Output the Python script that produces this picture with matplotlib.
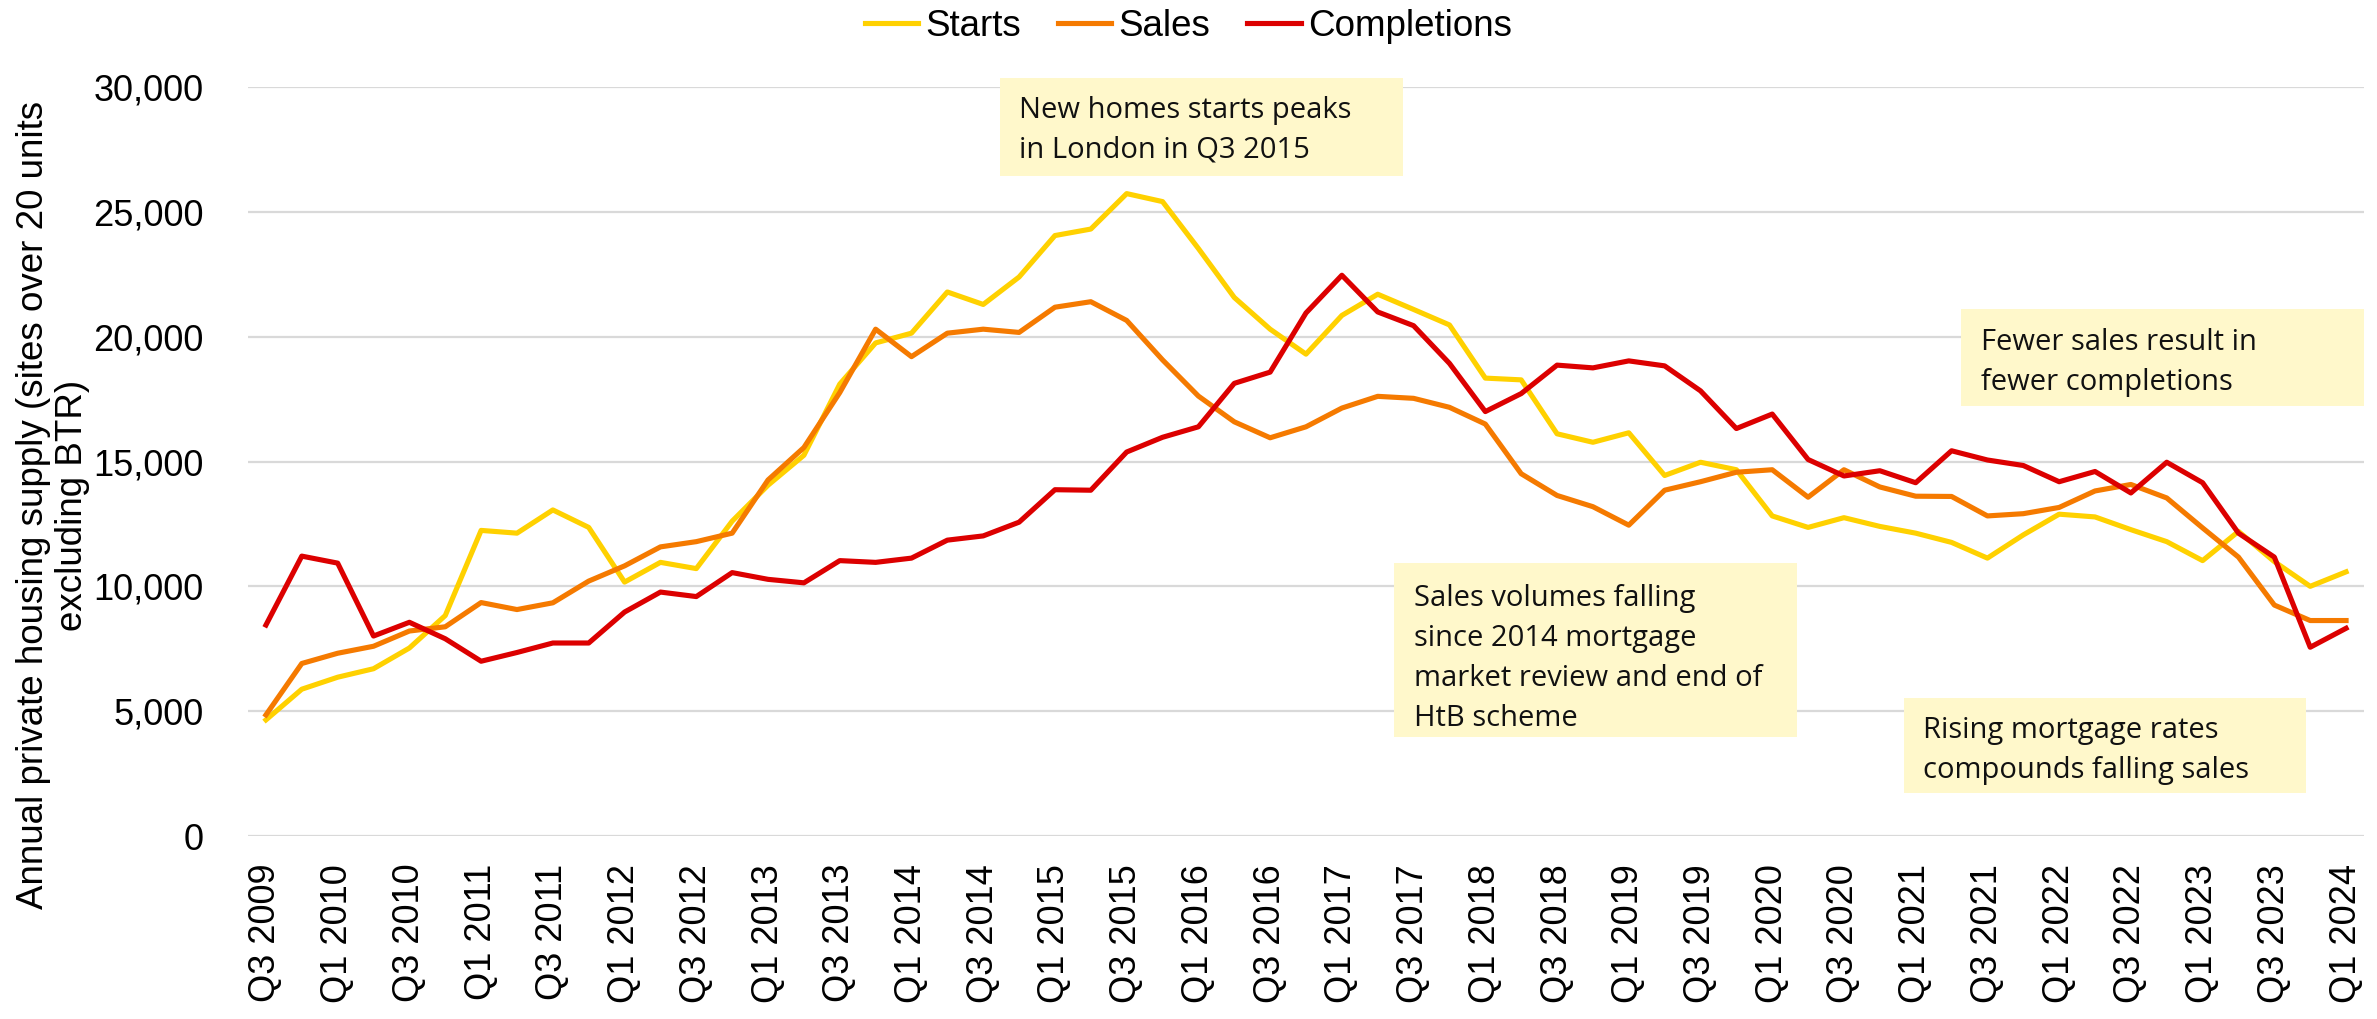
import matplotlib
matplotlib.use('Agg')
import matplotlib.pyplot as plt
from matplotlib.patches import Rectangle
from matplotlib.ticker import FuncFormatter

# ---- data ----
quarters = [f'Q{q} {y}' for y in range(2009, 2025) for q in range(1, 5)][2:-3]

starts = [4650, 5880, 6360, 6700, 7530, 8830, 12240, 12130, 13060, 12360,
          10170, 10960, 10710, 12610, 14050, 15250, 18100, 19750, 20140, 21790,
          21290, 22390, 24050, 24310, 25730, 25410, 23530, 21570, 20300, 19300,
          20850, 21700, 21090, 20470, 18340, 18270, 16110, 15770, 16150, 14440,
          14970, 14670, 12820, 12360, 12750, 12400, 12130, 11760, 11130, 12060,
          12890, 12780, 12270, 11790, 11030, 12200, 10990, 10000, 10580]

sales = [4850, 6910, 7320, 7600, 8210, 8380, 9350, 9070, 9340, 10210,
         10820, 11580, 11790, 12130, 14260, 15560, 17760, 20300, 19200, 20140,
         20300, 20170, 21180, 21400, 20650, 19070, 17620, 16590, 15950, 16390,
         17140, 17610, 17530, 17170, 16500, 14510, 13640, 13190, 12450, 13850,
         14190, 14570, 14670, 13570, 14670, 13980, 13610, 13600, 12820, 12910,
         13160, 13820, 14080, 13540, 12340, 11170, 9250, 8630, 8630]

completions = [8450, 11210, 10930, 8010, 8560, 7900, 7000, 7350, 7730, 7730,
               8970, 9770, 9590, 10550, 10280, 10140, 11030, 10960, 11130, 11850,
               12020, 12570, 13870, 13850, 15380, 15970, 16390, 18130, 18580, 20950,
               22460, 20990, 20440, 18930, 17000, 17720, 18860, 18750, 19030, 18830,
               17830, 16320, 16900, 15080, 14420, 14630, 14150, 15430, 15060, 14840,
               14190, 14600, 13740, 14970, 14150, 12130, 11170, 7560, 8320]

notes = [
    (['New homes starts peaks', 'in London in Q3 2015'], (1000, 78, 1403, 176), 1019, 118),
    (['Sales volumes falling', 'since 2014 mortgage', 'market review and end of', 'HtB scheme'],
     (1394, 563, 1797, 737), 1414, 606),
    (['Fewer sales result in', 'fewer completions'], (1961, 309, 2364, 406), 1981, 350),
    (['Rising mortgage rates', 'compounds falling sales'], (1904, 698, 2306, 793), 1923, 738),
]

plt.rcParams['font.family'] = ['Liberation Sans', 'DejaVu Sans']

W, H = 2377, 1019
fig = plt.figure(figsize=(W / 100, H / 100), dpi=100)
ax = fig.add_axes([248 / W, 1 - 836 / H, (2364 - 248) / W, (836 - 87) / H])

x = list(range(len(quarters)))
l1, = ax.plot(x, starts, color='#FFD100', lw=3.7, label='Starts')
l2, = ax.plot(x, sales, color='#F57A00', lw=3.7, label='Sales')
l3, = ax.plot(x, completions, color='#DC0000', lw=3.7, label='Completions')

ax.set_xlim(-0.5, len(quarters) - 0.5)
ax.set_ylim(0, 30000)
ax.set_yticks(range(0, 30001, 5000))
ax.yaxis.set_major_formatter(FuncFormatter(lambda v, p: f'{int(v):,}'))
ax.set_xticks(x[::2])
ax.set_xticklabels(quarters[::2], rotation=90)
ax.tick_params(axis='both', length=0, labelsize=26)
ax.tick_params(axis='y', pad=32)
ax.tick_params(axis='x', pad=20)
ax.grid(axis='y', color='#d9d9d9', lw=1.6)
ax.set_axisbelow(True)
for s in ax.spines.values():
    s.set_visible(False)

fig.text(53 / W, 1 - 505 / H,
         'Annual private housing supply (sites over 20 units\nexcluding BTR)',
         rotation=90, ha='center', va='center', multialignment='center',
         fontsize=26.5, linespacing=1.15)

fig.legend(handles=[l1, l2, l3], loc='center', bbox_to_anchor=(0.5, 1 - 26 / H),
           ncol=3, frameon=False, fontsize=26.5, handlelength=1.45,
           handletextpad=0.2, columnspacing=1.0)

# annotation boxes
for lines, (bl, bt, br, bb), tx, ty in notes:
    fig.add_artist(Rectangle((bl / W, 1 - bb / H), (br - bl) / W, (bb - bt) / H,
                             transform=fig.transFigure, facecolor='#FFF8CB',
                             edgecolor='none', zorder=5))
    for k, line in enumerate(lines):
        fig.text(tx / W, 1 - (ty + 40 * k) / H, line, ha='left', va='baseline',
                 fontsize=21, family=['Open Sans', 'DejaVu Sans'],
                 color='#111111', zorder=6)

fig.savefig('out.png', dpi=100)
